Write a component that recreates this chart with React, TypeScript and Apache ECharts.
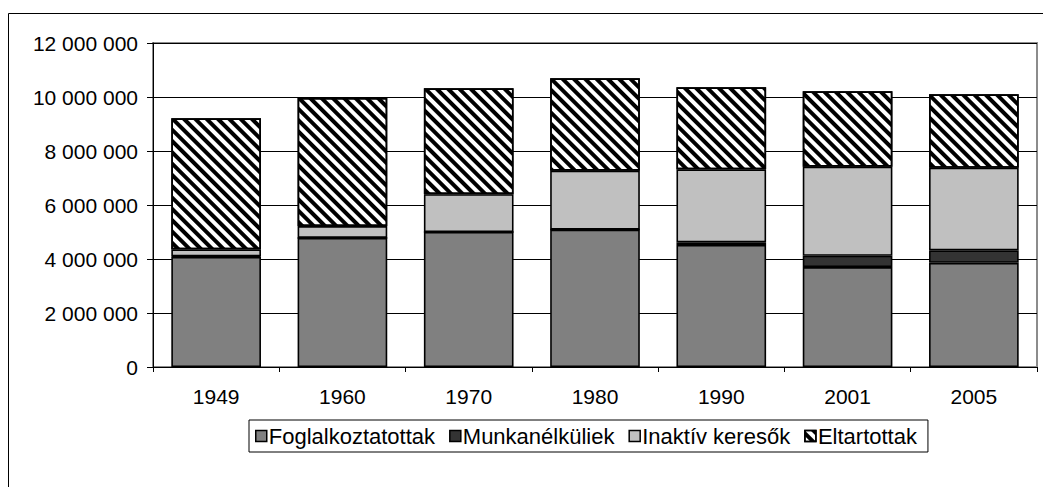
import React, { useEffect, useRef } from "react";
import * as echarts from "echarts";

const years = ["1949", "1960", "1970", "1980", "1990", "2001", "2005"];
const employed = [4080000, 4780000, 5000000, 5090000, 4520000, 3700000, 3860000];
const unemployed = [20000, 0, 0, 0, 100000, 420000, 460000];
const inactive = [260000, 440000, 1400000, 2180000, 2700000, 3300000, 3060000];
const dependents = [4850000, 4750000, 3920000, 3420000, 3040000, 2790000, 2720000];
const seriesNames = ["Foglalkoztatottak", "Munkanélküliek", "Inaktív keresők", "Eltartottak"];

const FONT = "'Liberation Sans', Arial, sans-serif";

export default function App() {
  const ref = useRef<HTMLDivElement>(null);
  useEffect(() => {
    document.body.style.margin = "0";
    const chart = echarts.init(ref.current!, undefined, { renderer: "svg" });
    const border = { borderColor: "#000", borderWidth: 1.6 };
    const fmt = (v: number) => String(v).replace(/\B(?=(\d{3})+(?!\d))/g, " ");
    chart.setOption({
      animation: false,
      backgroundColor: "#fff",
      textStyle: { fontFamily: FONT },
      graphic: [
        {
          type: "rect",
          shape: { x: 8.5, y: 13.5, width: 1100, height: 600 },
          style: { fill: "none", stroke: "#000", lineWidth: 1 },
          silent: true,
        },
      ],
      grid: {
        left: 153,
        right: 6,
        top: 43,
        bottom: 120,
        show: true,
        borderColor: "#8c8c8c",
        borderWidth: 2,
      },
      legend: {
        left: 249,
        top: 420,
        padding: [5, 11, 5, 6],
        borderColor: "#000",
        borderWidth: 1,
        itemWidth: 11,
        itemHeight: 11,
        itemGap: 14,
        icon: "rect",
        itemStyle: { borderColor: "#000", borderWidth: 1.5 },
        textStyle: { fontSize: 22, color: "#000", fontFamily: FONT, padding: [0, 0, 0, -3] },
        data: seriesNames,
      },
      xAxis: {
        type: "category",
        data: years,
        axisLine: { lineStyle: { color: "#000", width: 1 } },
        axisTick: { show: true, length: 5, lineStyle: { color: "#000" } },
        axisLabel: { color: "#000", fontSize: 21, margin: 19, fontFamily: FONT },
      },
      yAxis: {
        type: "value",
        min: 0,
        max: 12000000,
        interval: 2000000,
        axisLine: { show: true, lineStyle: { color: "#000", width: 1 } },
        axisTick: { show: true, length: 6, lineStyle: { color: "#000" } },
        axisLabel: { color: "#000", fontSize: 21, margin: 15, fontFamily: FONT, formatter: fmt },
        splitLine: { lineStyle: { color: "#000", width: 1 } },
      },
      series: [
        {
          name: seriesNames[0],
          type: "bar",
          stack: "total",
          barCategoryGap: "29%",
          data: employed,
          itemStyle: { color: "#808080", ...border },
        },
        {
          name: seriesNames[1],
          type: "bar",
          stack: "total",
          data: unemployed,
          itemStyle: { color: "#333333", ...border },
        },
        {
          name: seriesNames[2],
          type: "bar",
          stack: "total",
          data: inactive,
          itemStyle: { color: "#c0c0c0", ...border },
        },
        {
          name: seriesNames[3],
          type: "bar",
          stack: "total",
          data: dependents,
          itemStyle: {
            color: "#fff",
            ...border,
            decal: {
              symbol: "rect",
              symbolSize: 1,
              dashArrayX: [1, 0],
              dashArrayY: [3.2, 3.2],
              rotation: Math.PI / 4,
              color: "#000",
            },
          },
        },
      ],
    });
    return () => chart.dispose();
  }, []);
  return <div ref={ref} style={{ width: 1043, height: 487 }} />;
}
